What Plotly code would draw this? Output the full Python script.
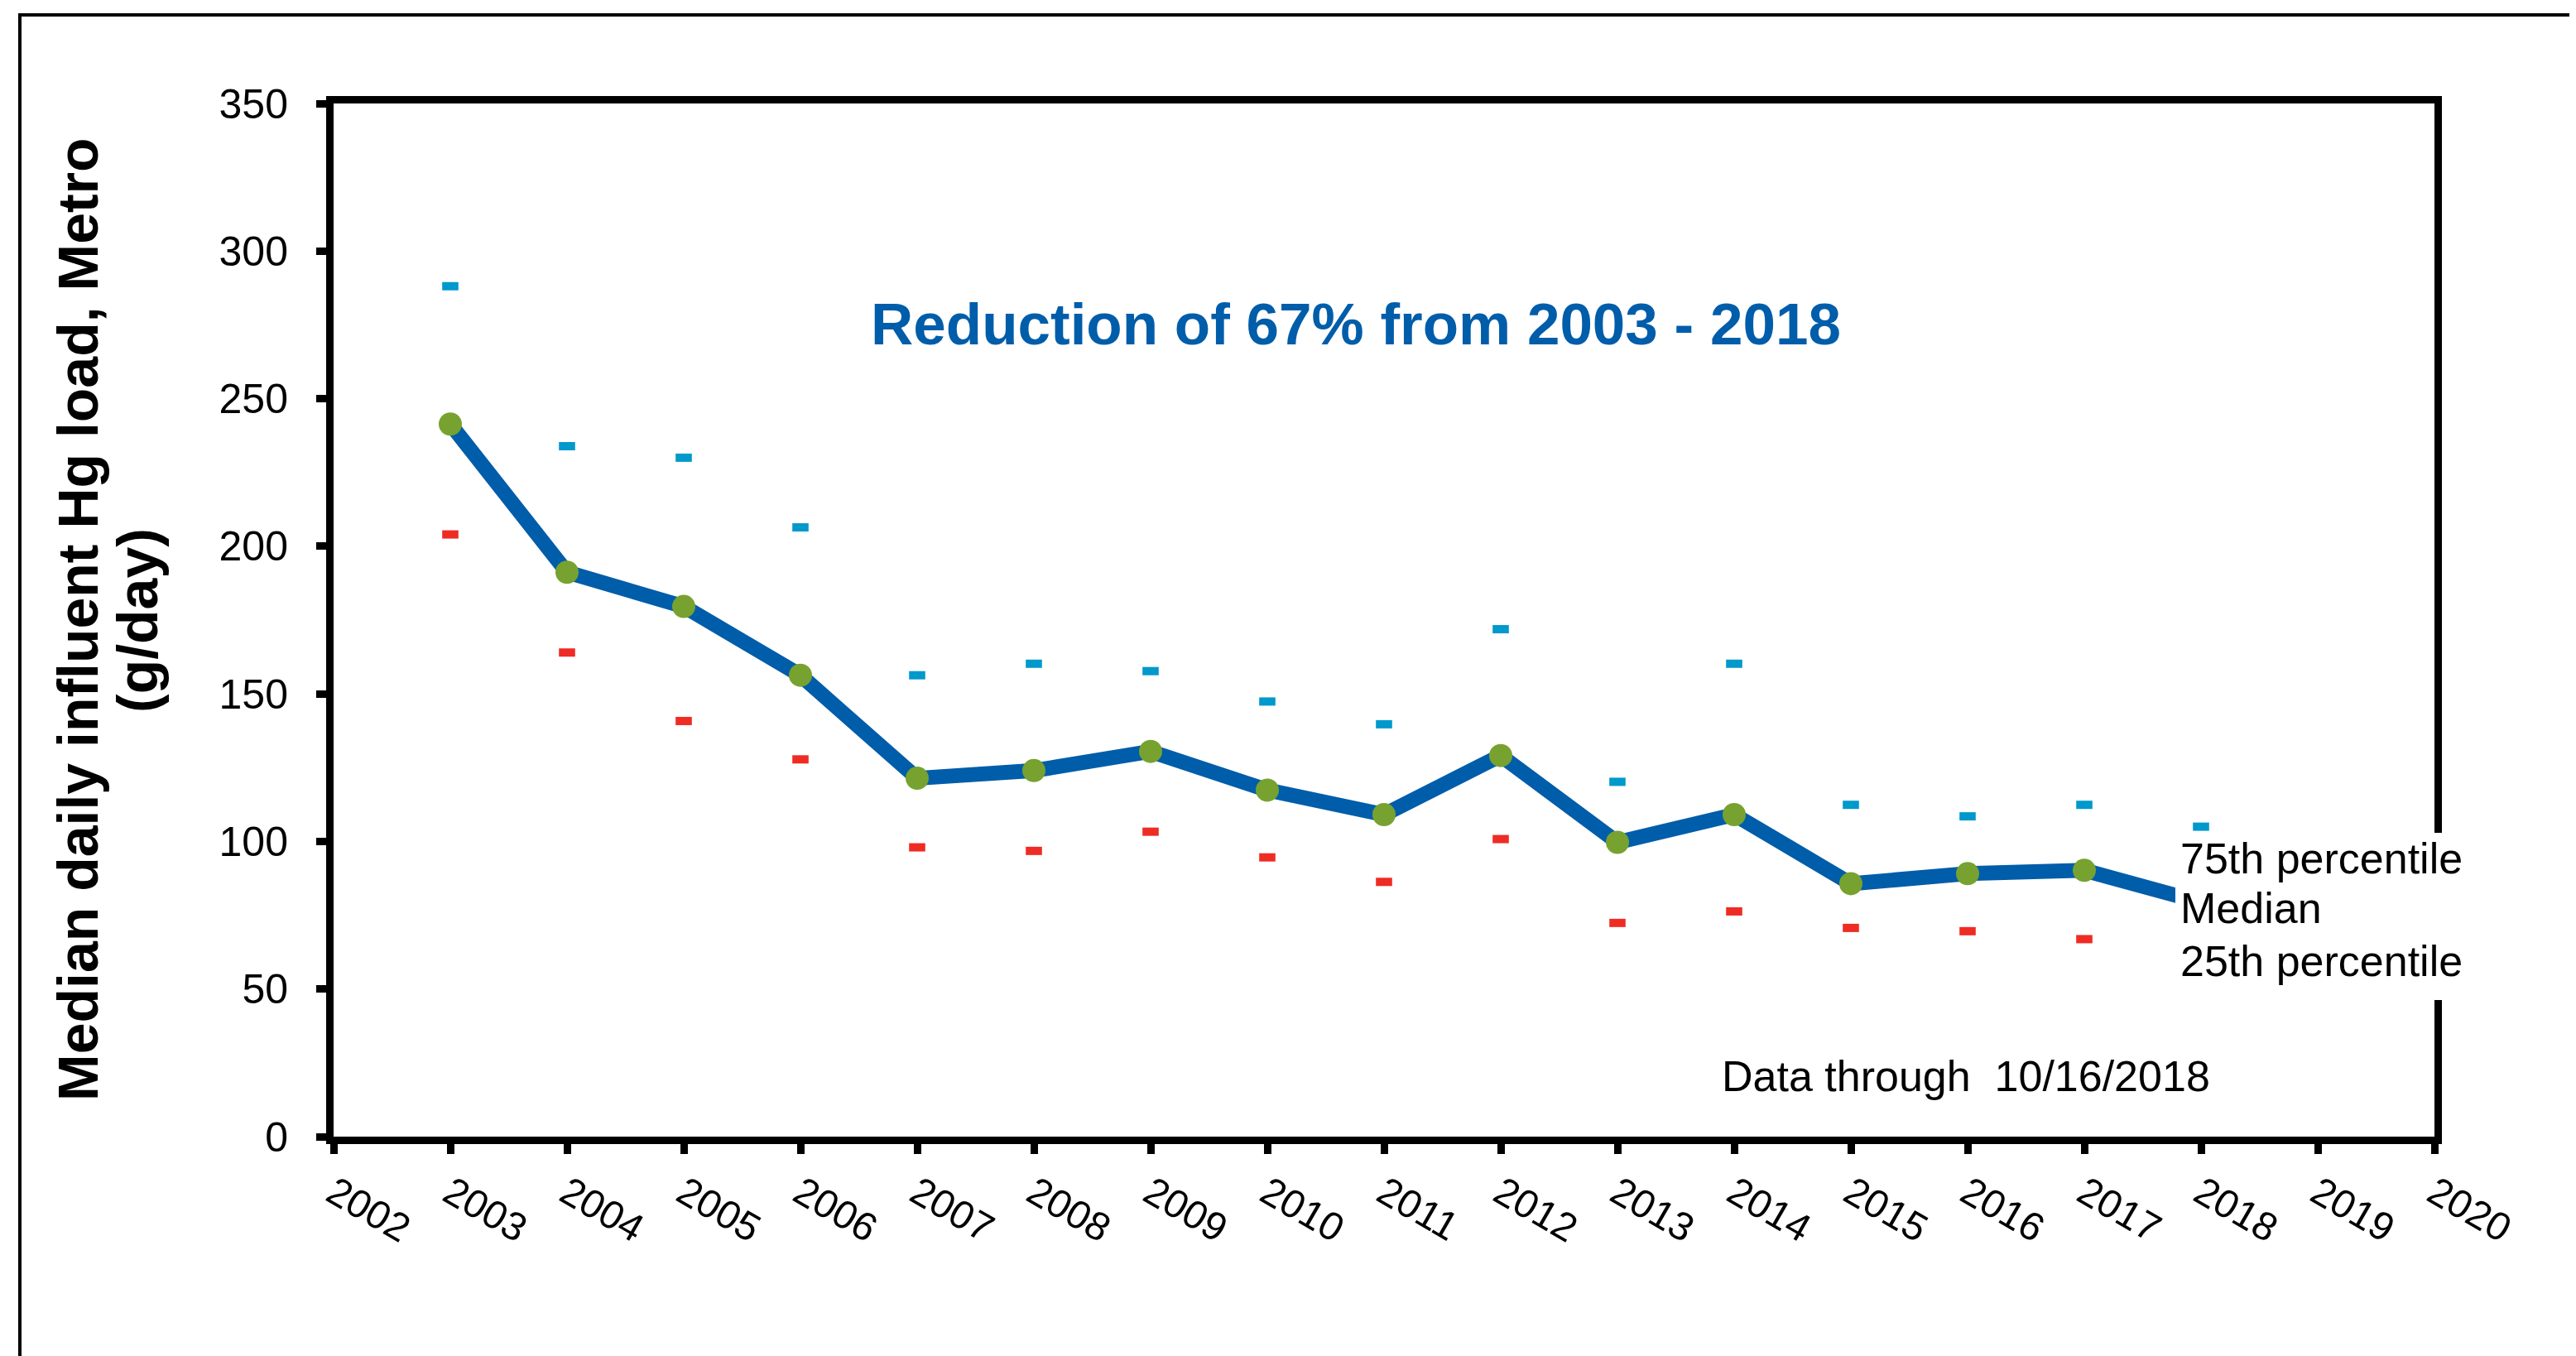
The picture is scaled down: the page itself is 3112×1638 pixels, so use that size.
import plotly.graph_objects as go

years = list(range(2003, 2019))
median_load = [241.4, 191.2, 179.6, 156.3, 121.4, 124.0, 130.5, 117.4, 109.1, 129.1,
               99.7, 109.1, 85.7, 89.1, 90.2, 79.4]
p75_load = [288.1, 233.9, 230.0, 206.4, 156.3, 160.2, 157.7, 147.4, 139.7, 171.9,
            120.2, 160.2, 112.4, 108.5, 112.4, 105.0]
p25_load = [204.0, 164.0, 140.8, 127.8, 98.0, 96.8, 103.3, 94.6, 86.3, 100.8,
            72.4, 76.3, 70.7, 69.6, 66.9, 65.0]

x_ticks = list(range(2002, 2021))
y_ticks = list(range(0, 351, 50))

title_text = "Reduction of 67% from 2003 - 2018"
ytitle_line1 = "Median daily influent Hg load, Metro"
ytitle_line2 = "(g/day)"
legend_lines = ["75th percentile", "Median", "25th percentile"]
note_text = "Data through\u00a0\u00a010/16/2018"

FONT = "Liberation Sans, Arial, sans-serif"
BLUE = "#005DAA"
GREEN = "#77A22F"
CYAN = "#0099CC"
RED = "#EE2C24"

fig = go.Figure()
fig.add_trace(go.Scatter(
    x=years, y=p75_load, mode="markers", name="75th percentile",
    marker=dict(symbol="line-ew", size=14, line=dict(color=CYAN, width=10)),
))
fig.add_trace(go.Scatter(
    x=years, y=p25_load, mode="markers", name="25th percentile",
    marker=dict(symbol="line-ew", size=14, line=dict(color=RED, width=10)),
))
fig.add_trace(go.Scatter(
    x=years, y=median_load, mode="lines+markers", name="Median",
    line=dict(color=BLUE, width=18),
    marker=dict(color=GREEN, size=28, line=dict(width=0)),
))

L, R, T, B = 395, 179, 117, 273
W, H = 3112, 1638
pw, ph = W - L - R, H - T - B

def px(xp):
    return (xp - L) / pw

def py(yp):
    return (H - B - yp) / ph

annotations = [
    dict(text=title_text, xref="paper", yref="paper", x=px(1630), y=py(383),
         xanchor="center", yanchor="middle", showarrow=False,
         font=dict(family=FONT, size=71, color=BLUE, weight="bold")),
    dict(text=ytitle_line1, xref="paper", yref="paper", x=px(86), y=py(740),
         xanchor="center", yanchor="middle", showarrow=False, textangle=-90,
         font=dict(family=FONT, size=68, color="black", weight="bold")),
    dict(text=ytitle_line2, xref="paper", yref="paper", x=px(158), y=py(742),
         xanchor="center", yanchor="middle", showarrow=False, textangle=-90,
         font=dict(family=FONT, size=68, color="black", weight="bold")),
    dict(text=note_text, xref="paper", yref="paper", x=px(2367), y=py(1292),
         xanchor="center", yanchor="middle", showarrow=False,
         font=dict(family=FONT, size=52, color="black")),
]
for txt, yc in zip(legend_lines, [1029, 1089, 1153]):
    annotations.append(dict(
        text=txt, xref="paper", yref="paper", x=px(2625), y=py(yc),
        xanchor="left", yanchor="middle", align="left", showarrow=False,
        borderpad=0, font=dict(family=FONT, size=52, color="black")))

fig.update_layout(
    width=W, height=H,
    margin=dict(l=L, r=R, t=T, b=B),
    paper_bgcolor="white", plot_bgcolor="white",
    showlegend=False,
    font=dict(family=FONT, color="black", size=50),
    xaxis=dict(
        range=[2002, 2020], tickmode="array", tickvals=x_ticks,
        ticktext=[str(v) for v in x_ticks],
        showgrid=False, zeroline=False,
        showline=True, linecolor="black", linewidth=9, mirror=True,
        ticks="outside", ticklen=12, tickwidth=9, tickcolor="black",
        tickangle=30, tickfont=dict(family=FONT, size=48, color="black"),
    ),
    yaxis=dict(
        range=[0, 350], tickmode="array", tickvals=y_ticks,
        ticktext=[str(v) for v in y_ticks],
        showgrid=False, zeroline=False,
        showline=True, linecolor="black", linewidth=9, mirror=True,
        ticks="outside", ticklen=12, tickwidth=9, tickcolor="black",
        tickfont=dict(family=FONT, size=50, color="black"),
        ticklabelstandoff=24,
    ),
    annotations=annotations,
    shapes=[
        dict(type="rect", xref="paper", yref="paper",
             x0=px(2620), x1=px(2990), y0=py(1200), y1=py(998),
             line=dict(width=0), fillcolor="white", layer="above"),
        dict(type="rect", xref="paper", yref="paper",
             x0=px(16), x1=px(3103), y0=py(1700), y1=py(10),
             line=dict(color="black", width=4), fillcolor="rgba(0,0,0,0)",
             layer="above"),
    ],
)

fig.write_html("out.html")
